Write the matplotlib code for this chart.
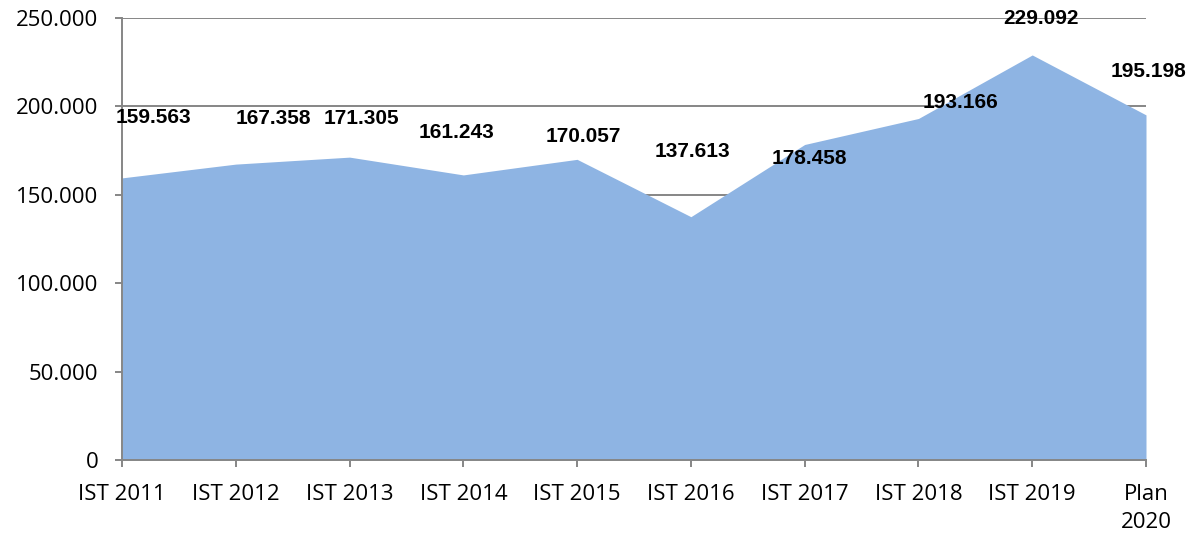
import matplotlib
matplotlib.use("Agg")
import matplotlib.pyplot as plt
from matplotlib.ticker import FuncFormatter

# Werte aus dem Diagramm
categories = ["IST 2011", "IST 2012", "IST 2013", "IST 2014", "IST 2015",
              "IST 2016", "IST 2017", "IST 2018", "IST 2019", "Plan\n2020"]
values = [159563, 167358, 171305, 161243, 170057,
          137613, 178458, 193166, 229092, 195198]
value_labels = ["159.563", "167.358", "171.305", "161.243", "170.057",
                "137.613", "178.458", "193.166", "229.092", "195.198"]

# Verschiebung der Beschriftungen (Pixel, relativ zum Punkt)
label_offsets = [(31, 60), (38, 46), (12, 39), (-7, 42), (6, 23),
                 (2, 65), (5, -14), (42, 16), (9, 36), (3, 43)]

fill_color = "#8EB4E3"
grey = "#868686"

fig = plt.figure(figsize=(11.95, 5.35), dpi=100)
ax = fig.add_axes([122 / 1195, 75 / 535, 1024 / 1195, 442 / 535])

x = list(range(len(categories)))
ax.fill_between(x, values, 0, color=fill_color, linewidth=0, zorder=2)

ax.set_xlim(0, len(categories) - 1)
ax.set_ylim(0, 250000)
ax.set_yticks(range(0, 250001, 50000))
ax.yaxis.set_major_formatter(
    FuncFormatter(lambda v, p: "0" if v == 0 else f"{int(v):,}".replace(",", ".")))
ax.set_xticks(x)
ax.set_xticklabels(categories, linespacing=1.45)

ax.grid(axis="y", color=grey, linewidth=1.4, zorder=1)
ax.set_axisbelow(True)
for side in ["top", "right"]:
    ax.spines[side].set_visible(False)
for side in ["left", "bottom"]:
    ax.spines[side].set_color(grey)
    ax.spines[side].set_linewidth(1.4)
    ax.spines[side].set_zorder(3)

ax.tick_params(axis="both", color=grey, width=1.4, length=5, direction="out")
ax.tick_params(axis="y", pad=12)
ax.tick_params(axis="x", pad=12)
for lbl in ax.get_xticklabels() + ax.get_yticklabels():
    lbl.set_fontfamily("Open Sans")
    lbl.set_fontsize(16)
    lbl.set_color("black")

for xi, v, txt, (dx, dy) in zip(x, values, value_labels, label_offsets):
    ax.annotate(txt, (xi, v), xytext=(dx, dy), textcoords="offset pixels",
                ha="center", va="center", fontsize=15, fontweight="bold",
                family="Liberation Sans", color="black", zorder=5,
                annotation_clip=False)

fig.savefig("out.png", dpi=100)
